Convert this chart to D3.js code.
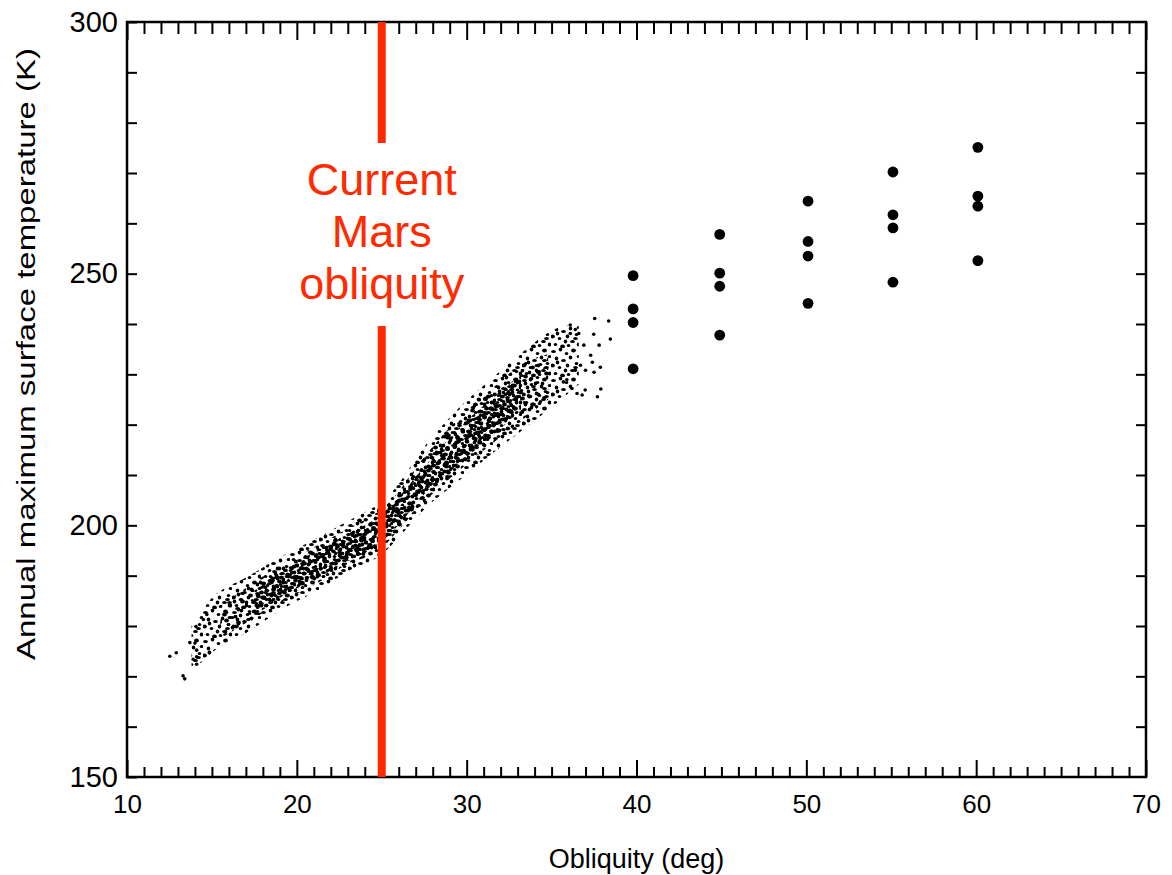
<!DOCTYPE html>
<html>
<head>
<meta charset="utf-8">
<script src="https://cdn.jsdelivr.net/npm/d3@7"></script>
<style>
  body { margin: 0; background: #fff; }
  svg { display: block; font-family: "Liberation Sans", Arial, Helvetica, sans-serif; }
</style>
</head>
<body>
<div id="chart"></div>
<script>

//////////////////////////////////////////////////////
// DATA
//////////////////////////////////////////////////////

// large dots : four runs at each high obliquity
const bigObliquity = [39.8, 44.9, 50.1, 55.1, 60.1];
const bigTemp40 = [249.6, 243.0, 240.3, 231.1];
const bigTemp45 = [257.8, 250.1, 247.5, 237.8];
const bigTemp50 = [264.4, 256.4, 253.5, 244.1];
const bigTemp55 = [270.2, 261.7, 259.1, 248.3];
const bigTemp60 = [275.1, 265.4, 263.4, 252.6];
const bigTemps = [bigTemp40, bigTemp45, bigTemp50, bigTemp55, bigTemp60];

// outer edge of the small-dot cloud (sparse fringe)
const cloudObliquity = [13.8, 14.5, 15.3, 17.2, 19.2, 21.2, 23.1, 24.7, 25.7, 27.6, 29.6, 31.6, 33.5, 35.2, 36.6];
const cloudTop       = [180.0, 183.5, 186.5, 190.0, 194.0, 197.5, 201.0, 204.0, 207.0, 216.0, 223.5, 229.5, 235.0, 239.0, 240.0];
const cloudBottom    = [172.0, 173.0, 175.5, 179.0, 183.5, 187.0, 191.0, 193.5, 196.5, 203.5, 209.0, 214.5, 219.5, 224.0, 228.0];

// main body of the cloud
const coreObliquity = [15.5, 17.2, 19.2, 21.2, 23.1, 24.7, 25.7, 27.6, 29.6, 31.6, 33.5, 34.8];
const coreTop       = [184.0, 188.0, 192.5, 196.0, 199.5, 202.5, 205.5, 214.0, 221.5, 227.5, 232.5, 234.0];
const coreBottom    = [177.5, 181.0, 185.0, 188.5, 192.5, 194.5, 198.0, 205.0, 211.0, 216.5, 221.5, 225.0];

// densest part of the cloud
const innerObliquity = [17.5, 19.2, 21.2, 23.1, 24.5, 25.7, 27.6, 29.6, 31.6, 33.2];
const innerTop       = [187.0, 191.0, 195.0, 198.5, 201.0, 204.5, 212.0, 219.5, 225.5, 230.0];
const innerBottom    = [182.0, 186.0, 189.5, 193.0, 195.5, 199.0, 206.5, 212.5, 218.0, 223.0];

// stray small dots at both ends of the cloud
const tailObliquity = [12.52, 12.9, 13.3, 13.4, 13.7, 14.0, 14.1, 13.9, 14.1, 14.1, 14.06, 14.7, 14.85, 14.5,
                       37.54, 38.36, 38.46, 37.48, 37.8, 37.9, 37.7, 37.4, 37.87, 37.5, 36.98, 36.8, 36.1, 36.4,
                       36.1, 36.6, 36.9, 37.3, 36.7, 36.4, 37.0, 36.2, 36.5, 35.9, 35.7];
const tailTemp      = [174.0, 174.7, 170.1, 169.5, 176.7, 176.6, 175.2, 173.4, 173.9, 172.4, 179.9, 182.3, 174.7, 181.3,
                       241.1, 240.6, 237.0, 237.95, 235.8, 227.1, 225.55, 232.4, 231.4, 230.4, 226.9, 225.9, 239.8, 238.9,
                       238.1, 238.1, 235.8, 233.8, 231.8, 230.8, 230.8, 227.2, 226.2, 228.9, 228.5];

const xMajorTicks = [10, 20, 30, 40, 50, 60, 70];
const yLabelTicks = [150, 200, 250, 300];
const currentObliquity = 25.0;
const noteLines = ["Current", "Mars", "obliquity"];

//////////////////////////////////////////////////////
// SETUP
//////////////////////////////////////////////////////

const width = 1172;
const height = 875;
const m = {left: 127, right: 1146, top: 22, bottom: 777};
const red = "#ff2a00";

const svg = d3.select("#chart")
    .append("svg")
    .attr("width", width)
    .attr("height", height);

const x = d3.scaleLinear().domain([10, 70]).range([m.left, m.right]);
const y = d3.scaleLinear().domain([150, 300]).range([m.bottom, m.top]);

// stipple textures for the cloud (tile sizes differ so the repeat is not obvious)
const defs = svg.append("defs");
const stipples = [
    {id: "dotsA", size: 29, pts: [[2,3],[9,1],[15,5],[22,2],[27,8],[5,10],[12,12],[19,9],[25,15],[1,17],[8,19],[16,17],[21,22],[27,25],[4,25],[11,27],[17,26],[14,22],[24,19],[6,14]]},
    {id: "dotsB", size: 37, pts: [[3,5],[11,2],[19,7],[28,3],[34,11],[7,13],[15,16],[24,13],[31,19],[2,22],[10,25],[18,23],[26,27],[35,29],[6,32],[14,34],[22,31],[30,35],[20,1],[12,9],[27,21],[4,28]]},
    {id: "dotsC", size: 23, pts: [[1,2],[7,4],[13,1],[19,5],[4,9],[10,11],[16,8],[21,13],[2,15],[8,17],[14,15],[18,20],[5,21],[11,22],[20,1]]},
    {id: "dotsD", size: 31, pts: [[3,2],[10,6],[17,3],[25,5],[29,12],[6,11],[13,14],[21,10],[27,19],[2,19],[9,22],[16,20],[23,24],[29,28],[5,28],[12,29],[19,27],[15,8],[8,16],[24,15]]},
    {id: "dotsE", size: 41, pts: [[5,3],[14,8],[24,2],[33,7],[39,15],[2,14],[11,19],[20,16],[29,21],[37,27],[6,26],[15,31],[24,28],[33,35],[3,37],[12,40],[21,38],[30,1],[18,24],[27,12]]}
];
stipples.forEach(p => {
    const pat = defs.append("pattern")
        .attr("id", p.id)
        .attr("patternUnits", "userSpaceOnUse")
        .attr("width", p.size)
        .attr("height", p.size);
    pat.selectAll("ellipse")
        .data(p.pts)
        .enter()
        .append("ellipse")
        .attr("cx", d => d[0] + 0.5)
        .attr("cy", d => d[1] + 0.5)
        .attr("rx", (d, i) => i % 3 === 0 ? 2.4 : 1.8)
        .attr("ry", (d, i) => i % 2 === 0 ? 1.6 : 1.9)
        .attr("fill", "#000");
});

//////////////////////////////////////////////////////
// CLOUD
//////////////////////////////////////////////////////

const band = d3.area()
    .x(d => x(d.o))
    .y0(d => y(d.lo))
    .y1(d => y(d.hi))
    .curve(d3.curveCatmullRom);

const toBand = (os, lo, hi) => os.map((o, i) => ({o: o, lo: lo[i], hi: hi[i]}));
const cloud = toBand(cloudObliquity, cloudBottom, cloudTop);
const core = toBand(coreObliquity, coreBottom, coreTop);
const inner = toBand(innerObliquity, innerBottom, innerTop);

svg.append("path").attr("d", band(cloud)).attr("fill", "url(#dotsA)");
svg.append("path").attr("d", band(core)).attr("fill", "url(#dotsB)");
svg.append("path").attr("d", band(core)).attr("fill", "url(#dotsE)");
svg.append("path").attr("d", band(inner)).attr("fill", "url(#dotsC)");
svg.append("path").attr("d", band(inner)).attr("fill", "url(#dotsD)");

svg.selectAll(".tail")
    .data(tailObliquity.map((o, i) => ({o: o, t: tailTemp[i]})))
    .enter()
    .append("circle")
    .attr("class", "tail")
    .attr("cx", d => x(d.o))
    .attr("cy", d => y(d.t))
    .attr("r", 1.8)
    .attr("fill", "#000");

//////////////////////////////////////////////////////
// BIG DOTS
//////////////////////////////////////////////////////

const bigPoints = [];
bigObliquity.forEach((o, i) => bigTemps[i].forEach(t => bigPoints.push({o: o, t: t})));

svg.selectAll(".big")
    .data(bigPoints)
    .enter()
    .append("circle")
    .attr("class", "big")
    .attr("cx", d => x(d.o))
    .attr("cy", d => y(d.t))
    .attr("r", 5.4)
    .attr("fill", "#000");

//////////////////////////////////////////////////////
// AXES (ticks point inward on all four sides)
//////////////////////////////////////////////////////

function styleAxis(g, size) {
    g.select(".domain").remove();
    g.selectAll("line").attr("stroke", "#000").attr("stroke-width", 2);
    g.selectAll("text")
        .attr("fill", "#000")
        .style("font-family", "'Liberation Sans', Arial, sans-serif")
        .style("font-size", size + "px");
}

const minorX = d3.range(11, 70).filter(v => v % 10 !== 0);
const minorY = d3.range(160, 300, 10).filter(v => v % 50 !== 0);

svg.append("g").attr("transform", `translate(0,${m.bottom})`)
    .call(d3.axisBottom(x).tickValues(minorX).tickSize(-10).tickFormat(""))
    .call(g => styleAxis(g, 26));
svg.append("g").attr("transform", `translate(0,${m.bottom})`)
    .call(d3.axisBottom(x).tickValues(xMajorTicks).tickSize(-17).tickPadding(18).tickFormat(d3.format("d")))
    .call(g => styleAxis(g, 26));

svg.append("g").attr("transform", `translate(0,${m.top})`)
    .call(d3.axisTop(x).tickValues(minorX).tickSize(-12).tickFormat(""))
    .call(g => styleAxis(g, 26));
svg.append("g").attr("transform", `translate(0,${m.top})`)
    .call(d3.axisTop(x).tickValues(xMajorTicks).tickSize(-18).tickFormat(""))
    .call(g => styleAxis(g, 26));

svg.append("g").attr("transform", `translate(${m.left},0)`)
    .call(d3.axisLeft(y).tickValues(minorY).tickSize(-10).tickFormat(""))
    .call(g => styleAxis(g, 29));
svg.append("g").attr("transform", `translate(${m.left},0)`)
    .call(d3.axisLeft(y).tickValues(yLabelTicks).tickSize(-10).tickPadding(9).tickFormat(d3.format("d")))
    .call(g => styleAxis(g, 29));

svg.append("g").attr("transform", `translate(${m.right},0)`)
    .call(d3.axisRight(y).tickValues(d3.range(160, 300, 10)).tickSize(-10).tickFormat(""))
    .call(g => styleAxis(g, 29));

// frame
svg.append("rect")
    .attr("x", m.left)
    .attr("y", m.top)
    .attr("width", m.right - m.left)
    .attr("height", m.bottom - m.top)
    .attr("fill", "none")
    .attr("stroke", "#000")
    .attr("stroke-width", 2.5);

//////////////////////////////////////////////////////
// AXIS LABELS
//////////////////////////////////////////////////////

svg.append("text")
    .attr("x", (m.left + m.right) / 2)
    .attr("y", 868)
    .attr("text-anchor", "middle")
    .style("font-size", "27px")
    .text("Obliquity (deg)");

svg.append("text")
    .attr("transform", "translate(35,354) rotate(-90)")
    .attr("text-anchor", "middle")
    .style("font-size", "26px")
    .attr("textLength", 612)
    .attr("lengthAdjust", "spacingAndGlyphs")
    .text("Annual maximum surface temperature (K)");

//////////////////////////////////////////////////////
// CURRENT OBLIQUITY MARKER
//////////////////////////////////////////////////////

svg.append("line")
    .attr("x1", x(currentObliquity)).attr("x2", x(currentObliquity))
    .attr("y1", m.top).attr("y2", 143)
    .attr("stroke", red).attr("stroke-width", 8);

svg.append("line")
    .attr("x1", x(currentObliquity)).attr("x2", x(currentObliquity))
    .attr("y1", 326).attr("y2", m.bottom)
    .attr("stroke", red).attr("stroke-width", 8);

svg.selectAll(".note")
    .data(noteLines)
    .enter()
    .append("text")
    .attr("class", "note")
    .attr("x", x(currentObliquity))
    .attr("y", (d, i) => 195 + i * 52)
    .attr("text-anchor", "middle")
    .attr("fill", red)
    .style("font-size", "45px")
    .text(d => d);

</script>
</body>
</html>
